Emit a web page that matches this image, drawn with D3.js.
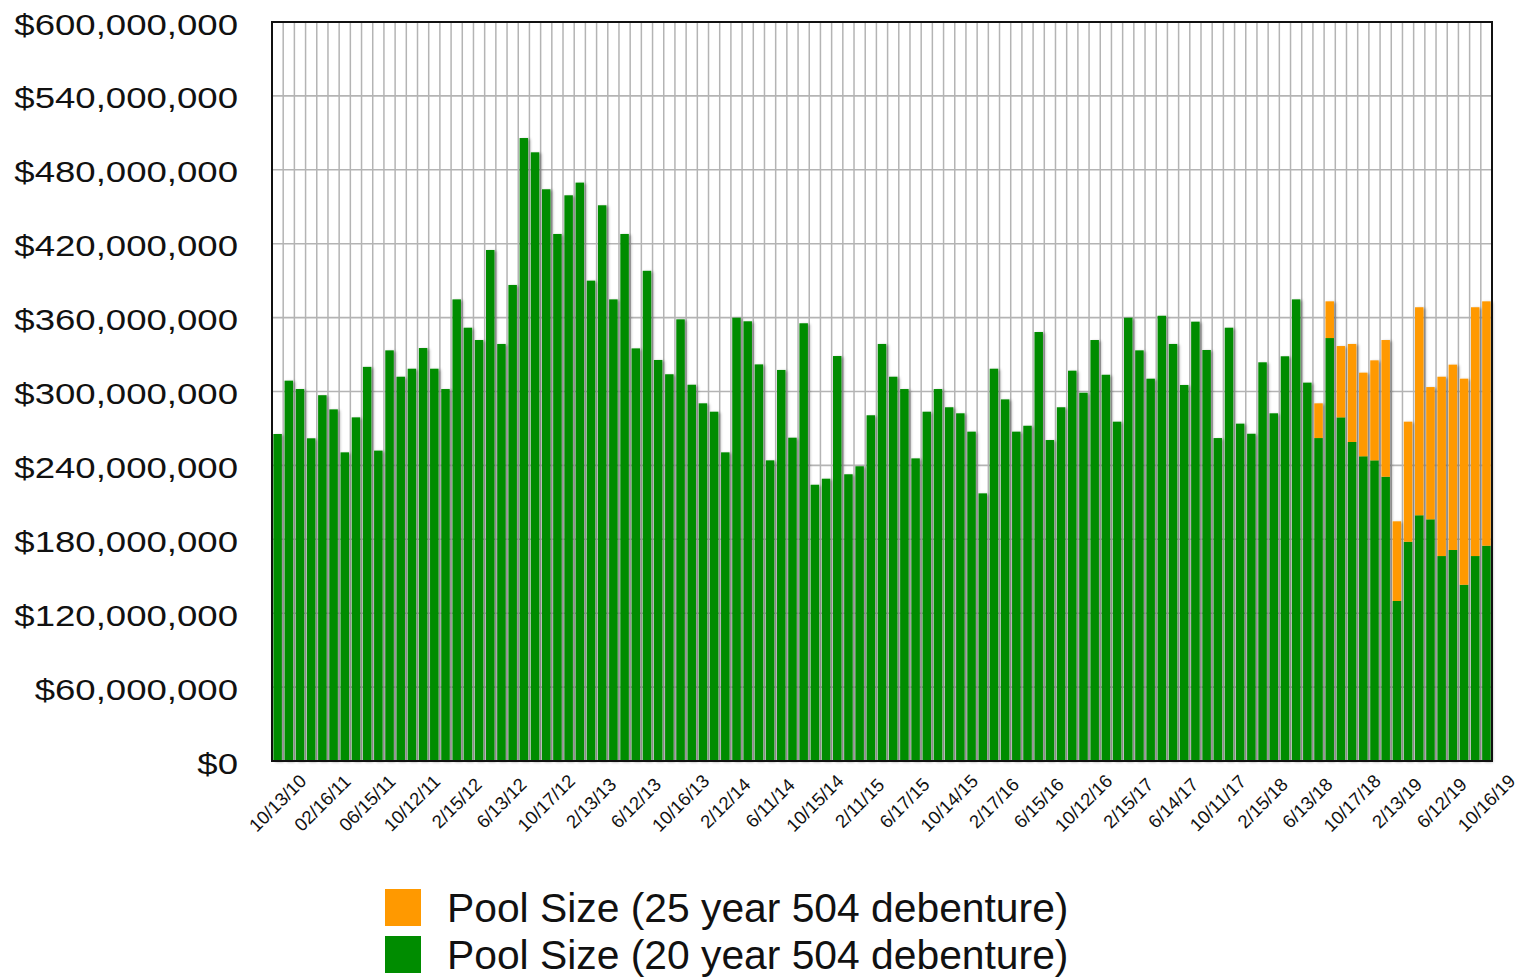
<!DOCTYPE html>
<html>
<head>
<meta charset="utf-8">
<script src="https://cdn.jsdelivr.net/npm/d3@7"></script>
<style>
  html, body { margin: 0; padding: 0; background: #ffffff; }
  svg { display: block; }
</style>
</head>
<body>
<svg id="chart" width="1526" height="977"></svg>
<script>
// ---- Data (values in millions of dollars) ----
const categories = [
  "2010-10","2010-11","2010-12",
  "2011-01","2011-02","2011-03","2011-04","2011-05","2011-06","2011-07","2011-08","2011-09","2011-10","2011-11","2011-12",
  "2012-01","2012-02","2012-03","2012-04","2012-05","2012-06","2012-07","2012-08","2012-09","2012-10","2012-11","2012-12",
  "2013-01","2013-02","2013-03","2013-04","2013-05","2013-06","2013-07","2013-08","2013-09","2013-10","2013-11","2013-12",
  "2014-01","2014-02","2014-03","2014-04","2014-05","2014-06","2014-07","2014-08","2014-09","2014-10","2014-11","2014-12",
  "2015-01","2015-02","2015-03","2015-04","2015-05","2015-06","2015-07","2015-08","2015-09","2015-10","2015-11","2015-12",
  "2016-01","2016-02","2016-03","2016-04","2016-05","2016-06","2016-07","2016-08","2016-09","2016-10","2016-11","2016-12",
  "2017-01","2017-02","2017-03","2017-04","2017-05","2017-06","2017-07","2017-08","2017-09","2017-10","2017-11","2017-12",
  "2018-01","2018-02","2018-03","2018-04","2018-05","2018-06","2018-07","2018-08","2018-09","2018-10","2018-11","2018-12",
  "2019-01","2019-02","2019-03","2019-04","2019-05","2019-06","2019-07","2019-08","2019-09","2019-10"
];

const pool20 = [
  265.5, 308.8, 302.0, 262.0, 297.0, 285.5, 250.6, 279.0, 320.0, 252.0,
  333.4, 312.0, 318.5, 335.3, 318.5, 302.0, 374.8, 351.8, 341.8, 414.9,
  338.6, 386.5, 505.8, 494.2, 464.2, 427.9, 459.3, 469.6, 390.0, 451.2,
  374.8, 427.9, 335.0, 398.0, 325.6, 314.0, 358.6, 305.5, 290.4, 283.6,
  250.6, 359.9, 357.0, 322.0, 244.1, 317.5, 262.5, 355.4, 224.3, 229.2,
  328.8, 232.8, 239.3, 280.7, 338.6, 312.0, 302.0, 245.7, 283.6, 302.0,
  287.2, 282.3, 267.4, 217.3, 318.5, 293.6, 267.4, 272.2, 348.3, 260.6,
  287.2, 316.9, 299.0, 341.8, 313.6, 275.5, 359.9, 333.4, 310.4, 361.5,
  338.6, 305.3, 356.7, 333.7, 262.2, 351.8, 273.9, 265.7, 323.7, 282.3,
  328.6, 374.8, 307.2, 262.2, 343.4, 279.0, 259.0, 247.4, 244.1, 230.8,
  129.9, 178.0, 199.5, 196.2, 166.4, 171.3, 143.1, 166.4, 174.8
];

const pool25 = [
  0, 0, 0, 0, 0, 0, 0, 0, 0, 0,
  0, 0, 0, 0, 0, 0, 0, 0, 0, 0,
  0, 0, 0, 0, 0, 0, 0, 0, 0, 0,
  0, 0, 0, 0, 0, 0, 0, 0, 0, 0,
  0, 0, 0, 0, 0, 0, 0, 0, 0, 0,
  0, 0, 0, 0, 0, 0, 0, 0, 0, 0,
  0, 0, 0, 0, 0, 0, 0, 0, 0, 0,
  0, 0, 0, 0, 0, 0, 0, 0, 0, 0,
  0, 0, 0, 0, 0, 0, 0, 0, 0, 0,
  0, 0, 0, 28.2, 29.8, 57.9, 79.6, 67.9, 81.2, 111.0,
  64.7, 97.5, 168.9, 107.4, 145.6, 150.5, 167.3, 202.0, 198.4
];

const tickLabels = [
  "10/13/10","02/16/11","06/15/11","10/12/11","2/15/12","6/13/12","10/17/12",
  "2/13/13","6/12/13","10/16/13","2/12/14","6/11/14","10/15/14","2/11/15",
  "6/17/15","10/14/15","2/17/16","6/15/16","10/12/16","2/15/17","6/14/17",
  "10/11/17","2/15/18","6/13/18","10/17/18","2/13/19","6/12/19","10/16/19"
];
const tickEvery = 4;

const yTicks = [0, 60, 120, 180, 240, 300, 360, 420, 480, 540, 600];

const seriesNames = ["Pool Size (25 year 504 debenture)", "Pool Size (20 year 504 debenture)"];
const colors = { pool25: "#ff9900", pool20: "#008c00" };

// ---- Layout ----
const plot = { left: 272, right: 1492, top: 22, bottom: 761 };
const svg = d3.select("#chart");

const defs = svg.append("defs");
const f = defs.append("filter").attr("id", "shadow")
  .attr("x", "-30%").attr("y", "-5%").attr("width", "180%").attr("height", "110%");
f.append("feDropShadow").attr("dx", 2).attr("dy", 1).attr("stdDeviation", 1.4)
  .attr("flood-color", "#000").attr("flood-opacity", 0.35);

const x = d3.scaleBand().domain(categories)
  .range([plot.left, plot.right]).paddingInner(0.24).paddingOuter(0.12);
const y = d3.scaleLinear().domain([0, 600]).range([plot.bottom, plot.top]);

const step = x.step();
const offset = (step - x.bandwidth()) / 2;

// Grid
const grid = svg.append("g").attr("class", "grid");
grid.selectAll("line.v").data(categories.slice(1)).enter().append("line")
  .attr("class", "v")
  .attr("x1", d => x(d) - offset).attr("x2", d => x(d) - offset)
  .attr("y1", plot.top).attr("y2", plot.bottom)
  .attr("stroke", "#b4b4b4").attr("stroke-width", 1.5);
grid.selectAll("line.h").data(yTicks.slice(1, -1)).enter().append("line")
  .attr("class", "h")
  .attr("x1", plot.left).attr("x2", plot.right)
  .attr("y1", d => y(d)).attr("y2", d => y(d))
  .attr("stroke", "#b4b4b4").attr("stroke-width", 1.6);

// Bars
const rows = categories.map((c, i) => ({ c, g: pool20[i], o: pool25[i] }));
const bars = svg.append("g").attr("filter", "url(#shadow)");
bars.selectAll("rect.g").data(rows).enter().append("rect")
  .attr("class", "g")
  .attr("x", d => x(d.c)).attr("width", x.bandwidth())
  .attr("y", d => y(d.g)).attr("height", d => y(0) - y(d.g))
  .attr("fill", colors.pool20);
bars.selectAll("rect.o").data(rows.filter(d => d.o > 0)).enter().append("rect")
  .attr("class", "o")
  .attr("x", d => x(d.c)).attr("width", x.bandwidth())
  .attr("y", d => y(d.g + d.o)).attr("height", d => y(d.g) - y(d.g + d.o))
  .attr("fill", colors.pool25);

// Border
svg.append("rect")
  .attr("x", plot.left).attr("y", plot.top)
  .attr("width", plot.right - plot.left).attr("height", plot.bottom - plot.top)
  .attr("fill", "none").attr("stroke", "#111").attr("stroke-width", 2);

// Y axis
const fmt = d3.format(",");
const yAxis = svg.append("g").attr("transform", `translate(${plot.left},0)`)
  .call(d3.axisLeft(y).tickValues(yTicks).tickSize(0)
    .tickFormat(d => "$" + fmt(d * 1000000)));
yAxis.select(".domain").remove();
yAxis.selectAll("text")
  .attr("x", 0).attr("dy", 0)
  .attr("transform", "translate(-34,12) scale(1.24,1)")
  .attr("text-anchor", "end")
  .style("font-family", "'Liberation Sans', Arial, sans-serif")
  .style("font-size", "29.5px").attr("fill", "#111");

// X axis
const tickCats = categories.filter((d, i) => i % tickEvery === 0);
const xAxis = svg.append("g").attr("transform", `translate(0,${plot.bottom})`)
  .call(d3.axisBottom(x).tickValues(tickCats).tickSize(0)
    .tickFormat((d, i) => tickLabels[i]));
xAxis.select(".domain").remove();
xAxis.selectAll("text")
  .attr("y", 0).attr("x", 0).attr("dy", "0.35em")
  .attr("transform", "translate(0,42) rotate(-45)")
  .attr("text-anchor", "middle")
  .style("font-family", "'Liberation Sans', Arial, sans-serif")
  .style("font-size", "18.5px").attr("fill", "#111");

// Legend
const legend = svg.append("g");
const legItems = [
  { name: seriesNames[0], color: colors.pool25 },
  { name: seriesNames[1], color: colors.pool20 }
];
const lg = legend.selectAll("g").data(legItems).enter().append("g")
  .attr("transform", (d, i) => `translate(385,${889 + i * 47})`);
lg.append("rect").attr("width", 36).attr("height", 37).attr("fill", d => d.color);
lg.append("text").attr("x", 62).attr("y", 33)
  .style("font-family", "'Liberation Sans', Arial, sans-serif")
  .style("font-size", "40.8px").attr("fill", "#111")
  .text(d => d.name);
</script>
</body>
</html>
